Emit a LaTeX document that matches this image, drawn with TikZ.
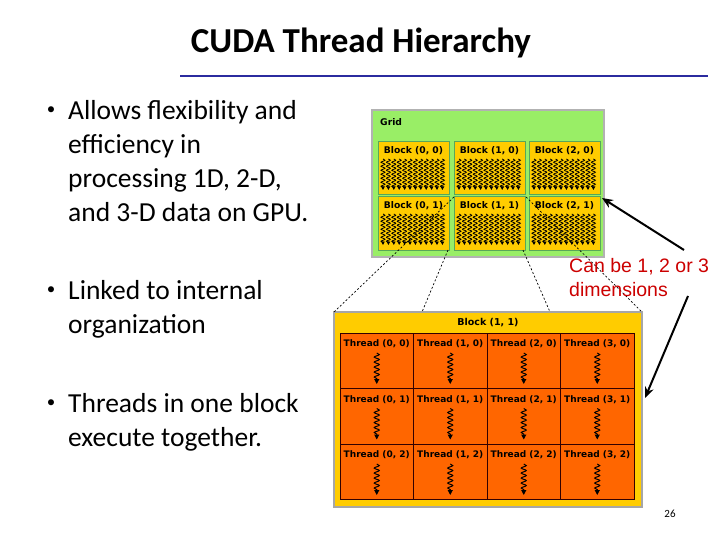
\documentclass[tikz,border=0pt]{standalone}
\usepackage{fontspec}
\setmainfont{Carlito}
\newfontfamily\arialf{Liberation Sans}
\newfontfamily\dejaf{DejaVu Sans}
\usetikzlibrary{decorations.pathmorphing,arrows.meta}
\definecolor{gridgreen}{HTML}{99EE66}
\definecolor{blockyel}{HTML}{FFCC00}
\definecolor{thrOr}{HTML}{FF6600}
\definecolor{navyline}{HTML}{2B2B9F}
\definecolor{redtxt}{HTML}{CC0000}
\tikzset{
  bul/.style={anchor=north west,align=left,font=\fontsize{27.5}{34}\selectfont,inner sep=0},
  blk/.style={draw=gray!70!green,fill=blockyel,line width=1pt},
  thr/.style={draw=black!80!red,fill=thrOr,line width=1pt},
  sm/.style={font=\dejaf\bfseries\fontsize{9.2}{10}\selectfont,inner sep=0},
  wv/.style={decorate,decoration={snake,amplitude=2.5pt,segment length=5pt,post length=4pt},-{Triangle[length=5pt,width=5pt]},line width=1pt},
  dsh/.style={dashed,line width=0.7pt,dash pattern=on 2pt off 2pt},
  arr/.style={line width=2pt,-{Stealth[length=11pt,width=9pt]}}
}
\begin{document}
\begin{tikzpicture}[x=1pt,y=-1pt]
\useasboundingbox[fill=white] (0,0) rectangle (720,540);
\node[font=\bfseries\fontsize{35}{36}\selectfont] (title) at (361,43) {CUDA Thread Hierarchy};
\draw[navyline,line width=2.5pt] (180,76) -- (708,76);
\node[bul] (b1) at (68,100) {Allows flexibility and\\efficiency in\\processing 1D, 2-D,\\and 3-D data on GPU.};
\node[bul] (b2) at (68,280) {Linked to internal\\organization};
\node[bul] (b3) at (68,393) {Threads in one block\\execute together.};
\foreach \y in {111,291,404} \node[font=\fontsize{17}{17}\selectfont] at (51,\y) {•};
% grid
\draw[draw=gray!60,fill=gridgreen,line width=1.5pt] (372,110) rectangle (604,257);
\node[sm,anchor=west] (gl) at (380,122) {Grid};
\foreach \c/\x in {0/378,1/454,2/529}{
 \foreach \r/\y in {0/142,1/197}{
  \draw[blk] (\x,\y) rectangle ++(71,53);
  \node[sm] at (\x+35.5,\y+9) {Block (\c, \r)};
  \foreach \i in {0,...,11} \draw[decorate,line width=0.8pt,decoration={snake,amplitude=2pt,segment length=4pt,post length=2pt},-{Triangle[length=3.5pt,width=3.5pt]}] (\x+5+\i*5.4,\y+17) -- (\x+5+\i*5.4,\y+48);
 }}
% big block
\draw[draw=gray!70,fill=blockyel,line width=1.5pt] (334,312) rectangle (642,507);
\node[sm,font=\dejaf\bfseries\fontsize{9.5}{10}\selectfont] (bb) at (488,323) {Block (1, 1)};
\foreach \c/\x in {0/340,1/413.5,2/487,3/560.5}{
 \foreach \r/\y in {0/333,1/388.5,2/444}{
  \draw[thr] (\x,\y) rectangle ++(73.5,55.5);
  \node[sm,font=\dejaf\bfseries\fontsize{9}{10}\selectfont] at (\x+36.75,\y+11) {Thread (\c, \r)};
  \draw[wv] (\x+36.75,\y+20) -- (\x+36.75,\y+51);
 }}
% dashed connectors
\coordinate (g1) at (454,197); \coordinate (g2) at (448,250);
\coordinate (g3) at (523,250); \coordinate (g4) at (526,197);
\coordinate (k1) at (334,312); \coordinate (k2) at (422,312);
\coordinate (k3) at (550,312); \coordinate (k4) at (642,312);
\draw[dsh] (g1) -- (k1); \draw[dsh] (g2) -- (k2);
\draw[dsh] (g3) -- (k3); \draw[dsh] (g4) -- (k4);
% annotation
\node[anchor=north west,align=left,text=redtxt,font=\arialf\fontsize{19.5}{24}\selectfont,inner sep=0] (note) at (569,258) {Can be 1, 2 or 3\\dimensions};
\coordinate (a1s) at (684,250); \coordinate (a1e) at (602,198);
\coordinate (a2s) at (688,296); \coordinate (a2e) at (645,398);
\draw[arr] (a1s) -- (a1e);
\draw[arr] (a2s) -- (a2e);
\node[font=\fontsize{11}{12}\selectfont] (pg) at (670,514) {26};
\end{tikzpicture}
\end{document}
